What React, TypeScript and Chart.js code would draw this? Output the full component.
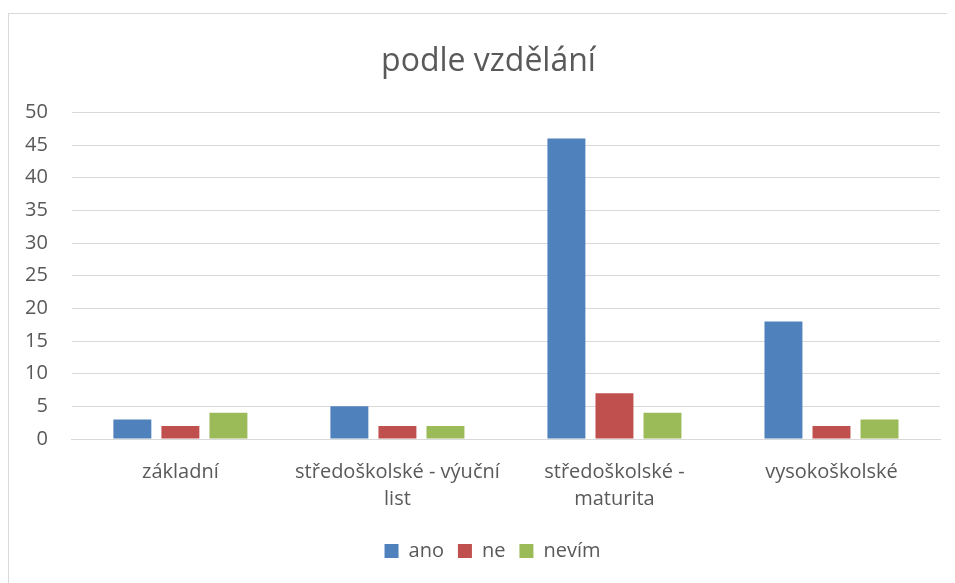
import React, { useEffect, useRef } from "react";
import { Chart, registerables } from "chart.js";

Chart.register(...registerables);

const categories: (string | string[])[] = [
  "základní",
  ["středoškolské - výuční", "list"],
  ["středoškolské -", "maturita"],
  "vysokoškolské",
];
const ano = [3, 5, 46, 18];
const ne = [2, 2, 7, 2];
const nevim = [4, 2, 4, 3];
const seriesNames = ["ano", "ne", "nevím"];
const colors = ["#4F81BD", "#C0504D", "#9BBB59"];
const title = "podle vzdělání";

const shiftBlocks = {
  id: "shiftBlocks",
  afterLayout(chart: any) {
    const shift = (box: any, dx: number) => {
      if (!box) return;
      box.left += dx;
      box.right += dx;
    };
    shift(chart.titleBlock, 18);
    shift(chart.legend, 22);
  },
};

export default function App() {
  const ref = useRef<HTMLCanvasElement>(null);
  useEffect(() => {
    if (!ref.current) return;
    const font = "'Open Sans', 'DejaVu Sans', sans-serif";
    const chart = new Chart(ref.current, {
      type: "bar",
      data: {
        labels: categories,
        datasets: [ano, ne, nevim].map((d, i) => ({
          label: seriesNames[i],
          data: d,
          backgroundColor: colors[i],
          borderWidth: 0,
          categoryPercentage: 0.664,
          barPercentage: 0.79,
        })),
      },
      plugins: [shiftBlocks],
      options: {
        responsive: false,
        animation: false,
        layout: { padding: { left: -8, right: 15, top: 10, bottom: 12 } },
        plugins: {
          title: {
            display: true,
            text: title,
            color: "#595959",
            font: { family: font, size: 32, weight: "normal", lineHeight: 1.2 },
            padding: { top: 19, bottom: 31 },
          },
          legend: {
            position: "bottom",
            labels: {
              color: "#595959",
              font: { family: font, size: 20 },
              boxWidth: 14,
              boxHeight: 14,
              padding: 14,
            },
          },
          tooltip: { enabled: false },
        },
        scales: {
          x: {
            grid: { display: false, drawTicks: false },
            border: { color: "#D9D9D9", width: 1 },
            ticks: {
              color: "#595959",
              font: { family: font, size: 20, lineHeight: 1.35 },
              maxRotation: 0,
              autoSkip: false,
              padding: 20,
            },
            afterFit: (scale: any) => {
              scale.height -= 6;
            },
          },
          y: {
            min: 0,
            max: 50,
            grid: { color: "#D9D9D9", drawTicks: false, lineWidth: 1 },
            border: { display: false },
            ticks: {
              stepSize: 5,
              color: "#595959",
              font: { family: font, size: 20 },
              padding: 24,
            },
          },
        },
      },
    });
    return () => chart.destroy();
  }, []);
  return (
    <div
      style={{
        marginTop: 5,
        width: 947,
        height: 570,
        borderLeft: "1px solid #D9D9D9",
        borderTop: "1px solid #D9D9D9",
        boxSizing: "border-box",
        background: "#fff",
        overflow: "hidden",
      }}
    >
      <canvas ref={ref} width={946} height={569} style={{ display: "block" }} />
    </div>
  );
}
